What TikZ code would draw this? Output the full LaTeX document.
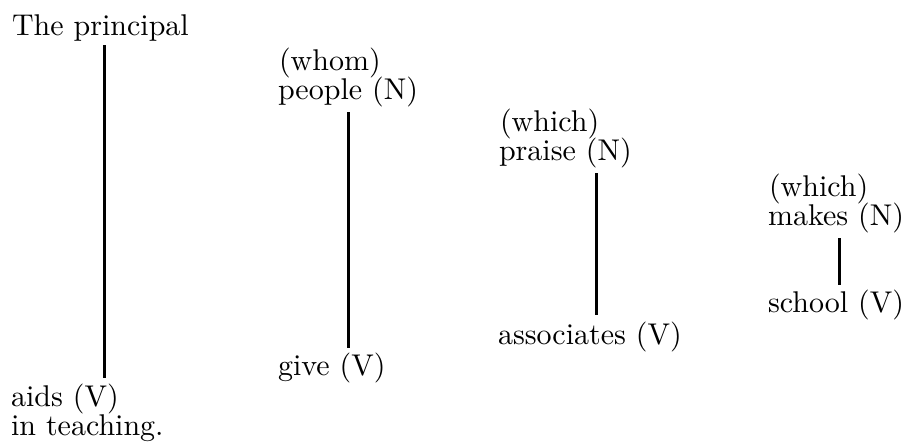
\documentclass[tikz,border=0pt]{standalone}
\begin{document}
\begin{tikzpicture}[x={(0.33333pt,0)}, y={(0,-0.33333pt)},
  word/.style={anchor=base west, inner sep=0pt, outer sep=0pt},
  stem/.style={line width=1pt}]
\useasboundingbox (0,0) rectangle (903,441);
% column 1
\node[word] (tp) at (12,35) {The principal};
\node[word] (aids) at (11,406) {aids (V)};
\node[word] (teach) at (11,435) {in teaching.};
\coordinate (c1a) at (104,45);
\coordinate (c1b) at (104,378);
\draw[stem] (c1a) -- (c1b);
% column 2
\node[word] (whom) at (279,70) {(whom)};
\node[word] (people) at (278,99) {people (N)};
\node[word] (give) at (278,375) {give (V)};
\coordinate (c2a) at (348,112);
\coordinate (c2b) at (348,348);
\draw[stem] (c2a) -- (c2b);
% column 3
\node[word] (which1) at (500,131) {(which)};
\node[word] (praise) at (499,160) {praise (N)};
\node[word] (assoc) at (498,344) {associates (V)};
\coordinate (c3a) at (596,173);
\coordinate (c3b) at (596,315);
\draw[stem] (c3a) -- (c3b);
% column 4
\node[word] (which2) at (769,196) {(which)};
\node[word] (makes) at (768,225) {makes (N)};
\node[word] (school) at (768,312) {school (V)};
\coordinate (c4a) at (839,238);
\coordinate (c4b) at (839,285);
\draw[stem] (c4a) -- (c4b);
\end{tikzpicture}
\end{document}
